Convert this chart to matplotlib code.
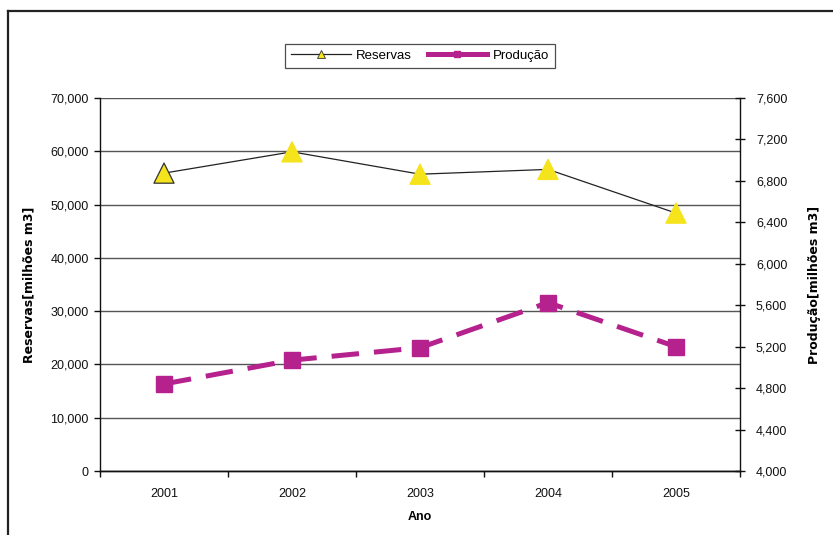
import matplotlib
matplotlib.use("Agg")
import matplotlib.pyplot as plt
from matplotlib.lines import Line2D
from matplotlib.ticker import FuncFormatter, MultipleLocator, FixedLocator

plt.rcParams['font.family'] = ['Liberation Sans', 'DejaVu Sans']

anos = ['2001', '2002', '2003', '2004', '2005']
reservas = [55900, 59900, 55700, 56600, 48400]
producao = [4840, 5070, 5190, 5625, 5200]

fig = plt.figure(figsize=(8.33, 5.35), dpi=100)
W, H = 833, 535
ax = fig.add_axes([100 / W, (H - 471) / H, 640 / W, 373 / H])
ax2 = ax.twinx()

x = list(range(len(anos)))
yellow = '#F5E31B'
mag = '#B5218D'

# gridlines
ax.set_ylim(0, 70000)
ax.yaxis.set_major_locator(MultipleLocator(10000))
ax.grid(axis='y', color='#555555', linewidth=1)
ax.set_axisbelow(True)
ax.set_xlim(-0.5, 4.5)

ax.plot(x, reservas, color='#222222', linewidth=0.9, zorder=3)
edges = ['#333333', yellow, yellow, yellow, yellow]
ax.scatter(x, reservas, marker='^', s=210, c=yellow, edgecolors=edges, linewidths=0.9, zorder=4)

ax2.set_ylim(4000, 7600)
ax2.yaxis.set_major_locator(MultipleLocator(400))
ax2.plot(x, producao, color=mag, linewidth=3.6, dashes=(5.5, 3.0), marker='s',
         markersize=11.5, markerfacecolor=mag, markeredgecolor=mag, zorder=3)

fmt = FuncFormatter(lambda v, p: f"{int(v):,}")
ax.yaxis.set_major_formatter(fmt)
ax2.yaxis.set_major_formatter(fmt)

for a in (ax, ax2):
    a.spines['top'].set_visible(False)
    for s in ('left', 'right', 'bottom'):
        a.spines[s].set_color('#111111')
        a.spines[s].set_linewidth(1.0)

ax.spines['right'].set_visible(False)
ax2.spines['left'].set_visible(False)

ax.tick_params(axis='y', direction='out', length=4, width=1, labelsize=9, pad=4, colors='#111111')
ax2.tick_params(axis='y', direction='inout', length=7, width=1, labelsize=9, pad=8, colors='#111111')

ax.xaxis.set_major_locator(FixedLocator([-0.5, 0.5, 1.5, 2.5, 3.5, 4.5]))
ax.xaxis.set_minor_locator(FixedLocator(x))
ax.set_xticklabels([])
ax.set_xticklabels(anos, minor=True)
ax.tick_params(axis='x', which='major', direction='out', length=4, width=1, colors='#111111')
ax.tick_params(axis='x', which='minor', length=0, labelsize=9, pad=12, colors='#111111')

ax.set_xlabel('Ano', fontsize=9, fontweight='bold', labelpad=8)
ax.set_ylabel('Reservas[milhões m3]', fontsize=9, fontweight='bold', labelpad=10, family=['DejaVu Sans'])
ax2.set_ylabel('Produção[milhões m3]', fontsize=9, fontweight='bold', labelpad=12, rotation=90, family=['DejaVu Sans'])
ax.yaxis.set_label_coords((35 - 100) / 640, 0.5)
ax2.yaxis.set_label_coords((808 - 100) / 640, 0.5)

h1 = Line2D([], [], color='#222222', linewidth=0.9, marker='^', markersize=6,
            markerfacecolor=yellow, markeredgecolor='#333333', markeredgewidth=0.6)
h2 = Line2D([], [], color=mag, linewidth=3.6, marker='s', markersize=5,
            markerfacecolor=mag, markeredgecolor=mag)
leg = fig.legend([h1, h2], ['Reservas', 'Produção'], loc='center', bbox_to_anchor=(420 / W, (H - 56) / H),
                 ncol=2, fontsize=9.5, frameon=True, fancybox=False, edgecolor='#222222',
                 handlelength=4.5, columnspacing=1.2, handletextpad=0.4, borderpad=0.45)
leg.get_frame().set_linewidth(0.9)

# outer chart frame
fig.add_artist(Line2D([8 / W, 8 / W], [0, (H - 11) / H], color='#222222', linewidth=1.6, transform=fig.transFigure))
fig.add_artist(Line2D([8 / W, 1.0], [(H - 11) / H, (H - 11) / H], color='#222222', linewidth=1.6, transform=fig.transFigure))

fig.savefig('out.png', dpi=100)
